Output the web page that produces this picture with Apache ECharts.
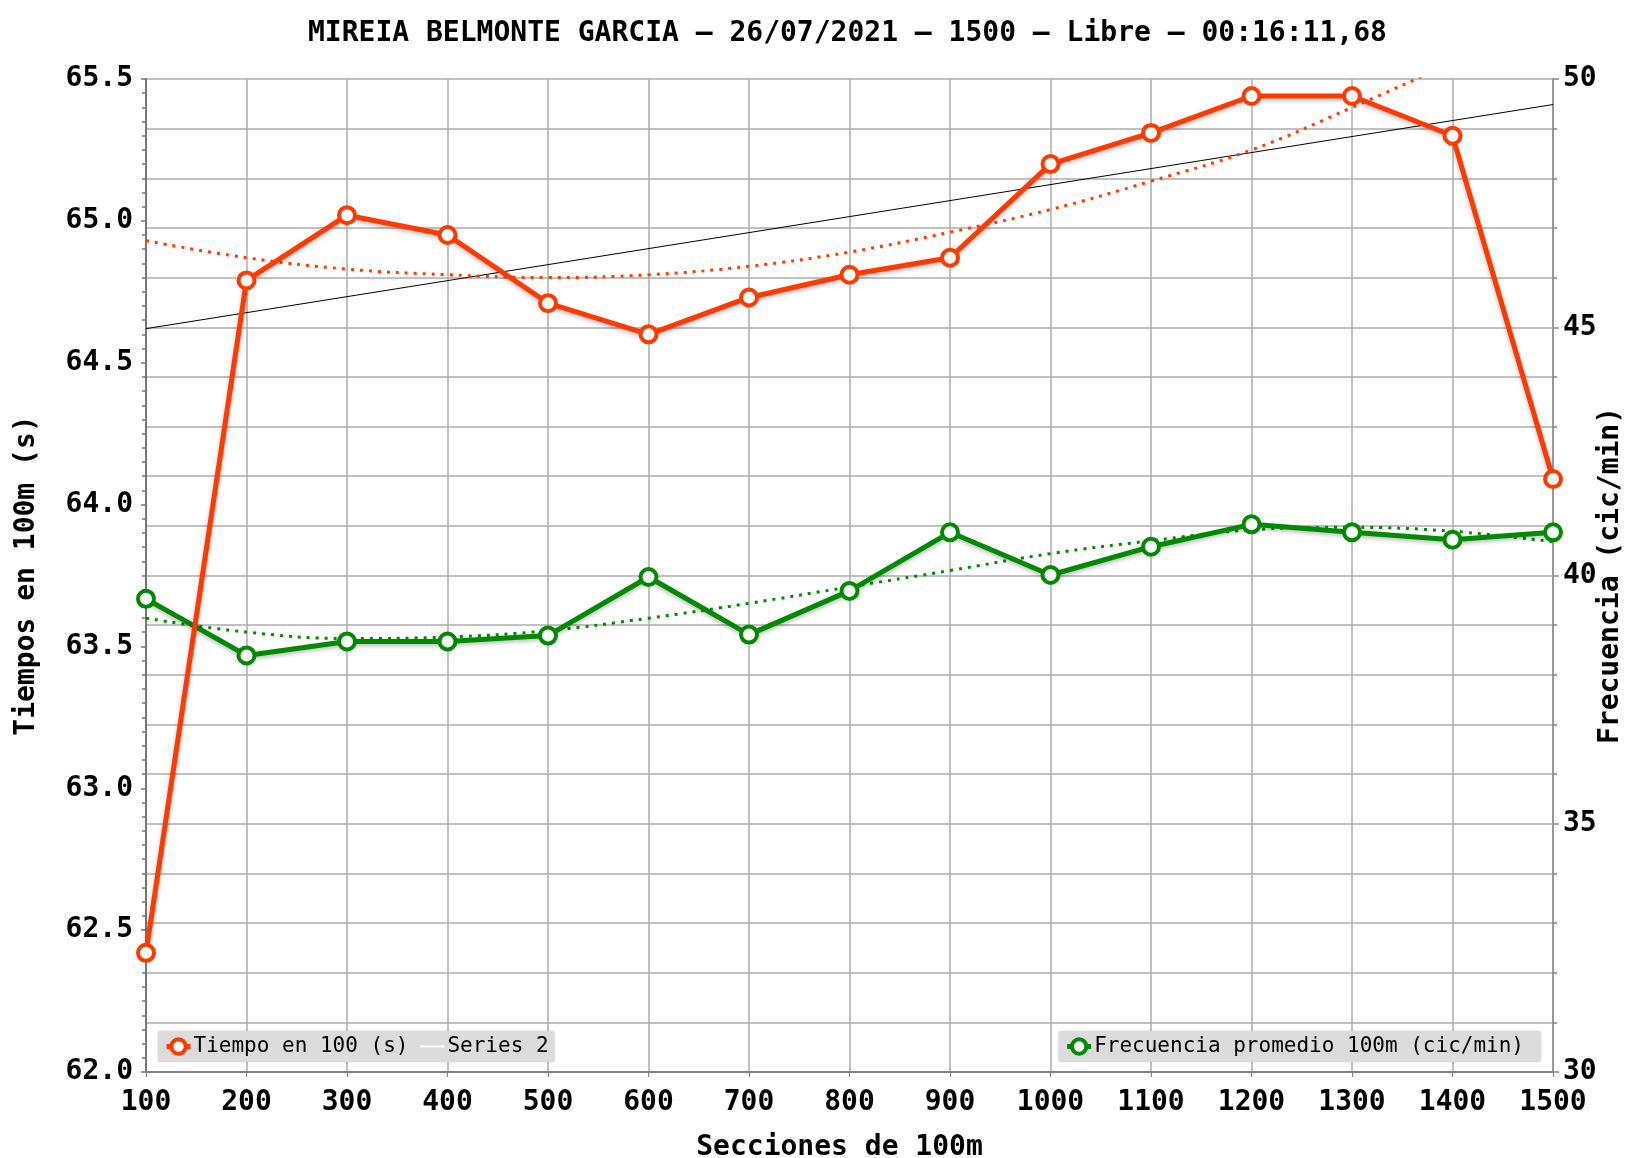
<!DOCTYPE html>
<html>
<head>
<meta charset="utf-8">
<script src="https://cdn.jsdelivr.net/npm/echarts@6/dist/echarts.min.js"></script>
<style>
html,body{margin:0;padding:0;background:#fff;}
#chart{width:1628px;height:1158px;}
</style>
</head>
<body>
<div id="chart"></div>
<script>
// ---- data ----
const titleText = 'MIREIA BELMONTE GARCIA \u2013 26/07/2021 \u2013 1500 \u2013 Libre \u2013 00:16:11,68';
const sections = [100, 200, 300, 400, 500, 600, 700, 800, 900, 1000, 1100, 1200, 1300, 1400, 1500];
const tiempo = [62.42, 64.79, 65.02, 64.95, 64.71, 64.60, 64.73, 64.81, 64.87, 65.20, 65.31, 65.44, 65.44, 65.30, 64.09];
const frecuencia = [39.53, 38.39, 38.67, 38.67, 38.79, 39.97, 38.81, 39.69, 40.87, 40.01, 40.58, 41.03, 40.87, 40.72, 40.87];
const tiempoTrend = [64.93, 64.87, 64.83, 64.81, 64.80, 64.81, 64.84, 64.89, 64.96, 65.04, 65.14, 65.25, 65.40, 65.56, 65.74];
const frecuenciaTrend = [39.14, 38.86, 38.73, 38.76, 38.89, 39.14, 39.44, 39.77, 40.10, 40.44, 40.70, 40.92, 40.97, 40.89, 40.68];
const series2X = [100, 1500];
const series2Y = [64.62, 65.41];
const leftTicks = { min: 62.0, max: 65.5, step: 0.5 };
const rightTicks = { min: 30, max: 50, step: 5 };
const xTicks = { min: 100, max: 1500, step: 100 };

const zip = (xs, ys) => xs.map((x, i) => [x, ys[i]]);

const ORANGE = '#ff3a00';
const GREEN = '#008a00';
const FONT = 'DejaVu Sans Mono';
const GRID = '#adadad';

const chart = echarts.init(document.getElementById('chart'), null, { renderer: 'canvas' });

const shadow = { shadowColor: 'rgba(0,0,0,0.28)', shadowBlur: 4, shadowOffsetY: 2 };

chart.setOption({
  animation: false,
  backgroundColor: '#fff',
  textStyle: { fontFamily: FONT },
  title: {
    text: titleText,
    left: 308,
    top: 18,
    padding: 0,
    textStyle: { fontFamily: FONT, fontWeight: 'bold', fontSize: 28, color: '#000', lineHeight: 32 }
  },
  grid: { left: 146, right: 75, top: 79, bottom: 86, containLabel: false, outerBoundsMode: 'none' },
  legend: [
    {
      left: 158, top: 1031,
      backgroundColor: '#dcdcdc',
      borderRadius: 2,
      padding: [5, 6, 5, 6],
      itemGap: 12,
      itemWidth: 24, itemHeight: 18,
      shadowColor: 'rgba(0,0,0,0.15)', shadowBlur: 3,
      lineStyle: { width: 5 },
      itemStyle: { borderWidth: 4 },
      textStyle: { fontFamily: FONT, fontSize: 21, color: '#000', padding: [0, 0, 0, -2] },
      data: [
        { name: 'Tiempo en 100 (s)' },
        { name: 'Series 2', icon: 'path://M0,1 L24,1 L24,3 L0,3 Z', itemStyle: { color: '#ffffff', borderWidth: 0 }, lineStyle: { color: '#ffffff', width: 2 } }
      ]
    },
    {
      right: 87, top: 1031,
      backgroundColor: '#dcdcdc',
      borderRadius: 2,
      padding: [5, 17, 5, 6],
      itemWidth: 24, itemHeight: 18,
      shadowColor: 'rgba(0,0,0,0.15)', shadowBlur: 3,
      lineStyle: { width: 5 },
      itemStyle: { borderWidth: 4 },
      textStyle: { fontFamily: FONT, fontSize: 21, color: '#000', padding: [0, 0, 0, -2] },
      data: [{ name: 'Frecuencia promedio 100m (cic/min)' }]
    }
  ],
  xAxis: {
    type: 'value',
    min: xTicks.min, max: xTicks.max, interval: xTicks.step,
    name: 'Secciones de 100m',
    nameLocation: 'middle',
    nameGap: 62,
    nameMoveOverlap: false,
    nameTextStyle: { fontFamily: FONT, fontWeight: 'bold', fontSize: 28, color: '#000', padding: [0, 20, 0, 0] },
    axisLine: { show: true, onZero: false, lineStyle: { color: '#808080', width: 2 } },
    axisTick: { show: true, length: 5, lineStyle: { color: '#808080' } },
    axisLabel: { margin: 17, fontFamily: FONT, fontWeight: 'bold', fontSize: 28, color: '#000',
      showMinLabel: true, showMaxLabel: true, formatter: v => String(v) },
    splitLine: { show: true, lineStyle: { color: GRID, width: 1.5 } }
  },
  yAxis: [
    {
      type: 'value',
      position: 'left',
      min: leftTicks.min, max: leftTicks.max, interval: leftTicks.step,
      name: 'Tiempos en 100m (s)',
      nameLocation: 'middle',
      nameRotate: 90,
      nameGap: 105,
      nameMoveOverlap: false,
      nameTextStyle: { fontFamily: FONT, fontWeight: 'bold', fontSize: 28, color: '#000' },
      axisLine: { show: true, onZero: false, lineStyle: { color: '#777', width: 2 } },
      axisTick: { show: true, length: 5, lineStyle: { color: '#777', width: 1.5 } },
      minorTick: { show: true, splitNumber: 10, length: 4, lineStyle: { color: '#777', width: 1.5 } },
      axisLabel: { margin: 13, fontFamily: FONT, fontWeight: 'bold', fontSize: 28, color: '#000',
        formatter: v => v.toFixed(1) },
      splitLine: { show: false }
    },
    {
      type: 'value',
      position: 'right',
      min: rightTicks.min, max: rightTicks.max, interval: rightTicks.step,
      name: 'Frecuencia (cic/min)',
      nameLocation: 'middle',
      nameRotate: 90,
      nameGap: 44,
      nameMoveOverlap: false,
      nameTextStyle: { fontFamily: FONT, fontWeight: 'bold', fontSize: 28, color: '#000' },
      axisLine: { show: true, onZero: false, lineStyle: { color: '#999', width: 2 } },
      axisTick: { show: true, length: 6, lineStyle: { color: '#888', width: 1.5 } },
      minorTick: { show: true, splitNumber: 5, length: 4, lineStyle: { color: '#888', width: 1.5 } },
      axisLabel: { margin: 10, fontFamily: FONT, fontWeight: 'bold', fontSize: 28, color: '#000' },
      splitLine: { show: true, lineStyle: { color: GRID, width: 1.5 } },
      minorSplitLine: { show: true, lineStyle: { color: GRID, width: 1.5 } }
    }
  ],
  series: [
    {
      name: 'Frecuencia trend',
      type: 'line',
      yAxisIndex: 1,
      data: zip(sections, frecuenciaTrend),
      smooth: 0.4,
      showSymbol: false,
      silent: true,
      lineStyle: { color: GREEN, width: 3, type: [3, 6] },
      z: 2
    },
    {
      name: 'Frecuencia promedio 100m (cic/min)',
      type: 'line',
      yAxisIndex: 1,
      data: zip(sections, frecuencia),
      symbol: 'circle',
      symbolSize: 16,
      lineStyle: Object.assign({ color: GREEN, width: 5 }, shadow),
      itemStyle: { color: '#ffffff', borderColor: GREEN, borderWidth: 4 },
      z: 3
    },
    {
      name: 'Series 2',
      type: 'line',
      yAxisIndex: 0,
      data: zip(series2X, series2Y),
      showSymbol: false,
      silent: true,
      lineStyle: { color: '#000', width: 1 },
      itemStyle: { color: '#000' },
      z: 4
    },
    {
      name: 'Tiempo trend',
      type: 'line',
      yAxisIndex: 0,
      data: zip(sections, tiempoTrend),
      smooth: 0.4,
      showSymbol: false,
      silent: true,
      clip: true,
      lineStyle: { color: ORANGE, width: 3, type: [3, 6] },
      z: 4
    },
    {
      name: 'Tiempo en 100 (s)',
      type: 'line',
      yAxisIndex: 0,
      data: zip(sections, tiempo),
      symbol: 'circle',
      symbolSize: 16,
      lineStyle: Object.assign({ color: ORANGE, width: 5 }, shadow),
      itemStyle: { color: '#ffffff', borderColor: ORANGE, borderWidth: 4 },
      z: 5
    }
  ]
});
</script>
</body>
</html>
